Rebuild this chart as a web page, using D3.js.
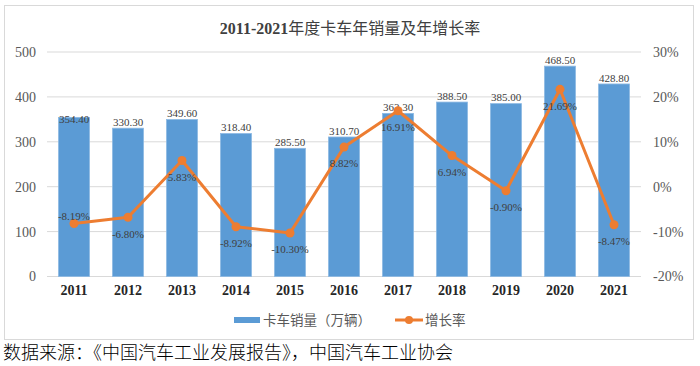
<!DOCTYPE html>
<html>
<head>
<meta charset="utf-8">
<script src="https://cdn.jsdelivr.net/npm/d3@7/dist/d3.min.js"></script>
<style>
  html, body { margin: 0; padding: 0; background: #fff; }
  svg { display: block; }
</style>
</head>
<body>
<svg id="chart" width="700" height="366"></svg>
<script>
const years = ['2011','2012','2013','2014','2015','2016','2017','2018','2019','2020','2021'];
const sales = [354.4, 330.3, 349.6, 318.4, 285.5, 310.7, 363.3, 388.5, 385.0, 468.5, 428.8];
const growth = [-8.19, -6.80, 5.83, -8.92, -10.30, 8.82, 16.91, 6.94, -0.90, 21.69, -8.47];
const growthLabelSide = ['above','below','below','below','below','below','below','below','below','below','below'];
const leftTicks = [0, 100, 200, 300, 400, 500];
const rightTicks = [-20, -10, 0, 10, 20, 30];
const titleNum = '2011-2021';
const titleText = '年度卡车年销量及年增长率';
const seriesNames = ['卡车销量（万辆）', '增长率'];
const sourceText = '数据来源：《中国汽车工业发展报告》，中国汽车工业协会';

const loc = d3.formatLocale({ decimal: '.', thousands: ',', grouping: [3], currency: ['', ''], minus: '-' });
const fmt2 = loc.format('.2f');

const svg = d3.select('#chart');
const serif = '"Liberation Serif", "Times New Roman", "Noto Sans CJK SC", serif';
const cjk = '"Noto Sans CJK SC", sans-serif';
const plot = { left: 47, right: 641, top: 52, bottom: 276.5 };

// frame
svg.append('rect').attr('x', 4.5).attr('y', 5.5).attr('width', 689).attr('height', 334)
  .attr('fill', '#fff').attr('stroke', '#D9D9D9').attr('stroke-width', 1);

const x = d3.scaleBand().domain(years).range([plot.left, plot.right]).paddingInner(0.426).paddingOuter(0.213);
const yL = d3.scaleLinear().domain([0, 500]).range([plot.bottom, plot.top]);
const yR = d3.scaleLinear().domain([-20, 30]).range([plot.bottom, plot.top]);

// gridlines
svg.append('g').selectAll('line').data(leftTicks).join('line')
  .attr('x1', plot.left).attr('x2', plot.right)
  .attr('y1', d => yL(d)).attr('y2', d => yL(d))
  .attr('stroke', '#D9D9D9').attr('stroke-width', 1);

// left axis
const gL = svg.append('g').attr('transform', `translate(${plot.left - 11},0)`)
  .call(d3.axisLeft(yL).tickValues(leftTicks).tickSize(0).tickPadding(0));
gL.select('.domain').remove();
gL.selectAll('text').attr('font-family', serif).attr('font-size', 14).attr('fill', '#595959');

// right axis
const gR = svg.append('g').attr('transform', `translate(${plot.right + 12},0)`)
  .call(d3.axisRight(yR).tickValues(rightTicks).tickSize(0).tickPadding(0).tickFormat(d => loc.format('d')(d) + '%'));
gR.select('.domain').remove();
gR.selectAll('text').attr('font-family', serif).attr('font-size', 14).attr('fill', '#595959');

// x axis
const gX = svg.append('g').attr('transform', `translate(0,${plot.bottom + 9})`)
  .call(d3.axisBottom(x).tickSize(0).tickPadding(0));
gX.select('.domain').remove();
gX.selectAll('text').attr('font-family', serif).attr('font-size', 14).attr('font-weight', 'bold').attr('fill', '#262626');

// bars
svg.append('g').selectAll('rect').data(sales).join('rect')
  .attr('x', (d, i) => x(years[i]))
  .attr('y', d => yL(d))
  .attr('width', x.bandwidth())
  .attr('height', d => yL(0) - yL(d))
  .attr('fill', '#5B9BD5')
  .attr('stroke', '#8DB9E3').attr('stroke-width', 0.8);

// bar labels
svg.append('g').selectAll('text').data(sales).join('text')
  .attr('x', (d, i) => x(years[i]) + x.bandwidth() / 2)
  .attr('y', (d, i) => yL(d) - (i === 0 ? -1.5 : 6))
  .attr('dy', '0.35em')
  .attr('text-anchor', 'middle')
  .attr('font-family', serif).attr('font-size', 11).attr('fill', '#404040')
  .text(d => fmt2(d));

// line
const cx = (d, i) => x(years[i]) + x.bandwidth() / 2;
const line = d3.line().x((d, i) => cx(d, i)).y(d => yR(d));
svg.append('path').datum(growth).attr('d', line)
  .attr('fill', 'none').attr('stroke', '#ED7D31').attr('stroke-width', 3).attr('stroke-linejoin', 'round');
svg.append('g').selectAll('circle').data(growth).join('circle')
  .attr('cx', (d, i) => cx(d, i)).attr('cy', d => yR(d)).attr('r', 4.5)
  .attr('fill', '#ED7D31');

// line labels
svg.append('g').selectAll('text').data(growth).join('text')
  .attr('x', (d, i) => cx(d, i))
  .attr('y', (d, i) => yR(d) + (growthLabelSide[i] === 'above' ? -7 : 16.5))
  .attr('dy', '0.35em')
  .attr('text-anchor', 'middle')
  .attr('font-family', serif).attr('font-size', 11).attr('fill', '#404040')
  .text(d => fmt2(d) + '%');

// title
const title = svg.append('text').attr('x', 350).attr('y', 28).attr('dy', '0.35em')
  .attr('text-anchor', 'middle').attr('font-size', 16).attr('fill', '#404040');
title.append('tspan').attr('font-family', serif).attr('font-weight', 'bold').text(titleNum);
title.append('tspan').attr('font-family', cjk).attr('font-weight', 'normal').text(titleText);

// legend
const lg = svg.append('g');
lg.append('rect').attr('x', 234).attr('y', 317).attr('width', 26).attr('height', 6).attr('fill', '#5B9BD5');
lg.append('text').attr('x', 263).attr('y', 320).attr('dy', '0.35em')
  .attr('font-family', cjk).attr('font-size', 13.5).attr('fill', '#595959').text(seriesNames[0]);
lg.append('line').attr('x1', 395).attr('x2', 423).attr('y1', 320).attr('y2', 320)
  .attr('stroke', '#ED7D31').attr('stroke-width', 3);
lg.append('circle').attr('cx', 409).attr('cy', 320).attr('r', 4).attr('fill', '#ED7D31');
lg.append('text').attr('x', 425).attr('y', 320).attr('dy', '0.35em')
  .attr('font-family', cjk).attr('font-size', 13.5).attr('fill', '#595959').text(seriesNames[1]);

// source
svg.append('text').attr('x', 3).attr('y', 353).attr('dy', '0.35em')
  .attr('font-family', cjk).attr('font-size', 18).attr('font-weight', 300).attr('fill', '#000').text(sourceText);
</script>
</body>
</html>
